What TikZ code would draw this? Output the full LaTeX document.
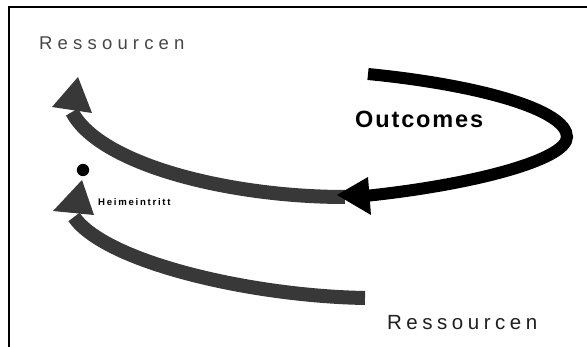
\documentclass[tikz,border=0pt]{standalone}
\usepackage{fontspec}
\setmainfont{Liberation Sans}
\newfontfamily\resfontA[LetterSpace=28]{Liberation Sans}
\newfontfamily\resfontB[LetterSpace=22]{Liberation Sans}
\newfontfamily\outfont[LetterSpace=8]{Liberation Sans}
\newfontfamily\heimfont[LetterSpace=18]{Liberation Sans}
\definecolor{dither}{gray}{0.22}
\begin{document}
\begin{tikzpicture}[x=1pt,y=-1pt,
  greyshaft/.style={draw=dither,line width=14pt},
  blackshaft/.style={draw=black,line width=12pt},
  greyhead/.style={fill=dither},
  blackhead/.style={fill=black},
  lbl/.style={inner sep=0pt,anchor=base west}]
\useasboundingbox (0,0) rectangle (587,347);
\fill[white] (0,0) rectangle (587,347);
% frame
\coordinate (fTL) at (9,7);
\coordinate (fTR) at (587,7);
\coordinate (fBL) at (9,347);
\draw[line width=1.4pt] (fTR) -- (fTL) -- (fBL);
% texts
\node[lbl,text=black!72] (res1) at (39,50) {\resfontA\fontsize{18.5}{20}\selectfont Ressourcen};
\node[lbl,text=black!88] (res2) at (387,330) {\resfontB\fontsize{20.5}{22}\selectfont Ressourcen};
\node[lbl] (out) at (355,128) {\outfont\bfseries\fontsize{23.5}{25}\selectfont Outcomes};
\node[lbl] (heim) at (98,206) {\heimfont\bfseries\fontsize{9.6}{11}\selectfont Heimeintritt};
% dot
\fill (83,170) circle (6.2pt);
% coordinates
\coordinate (bStart) at (368,74);
\coordinate (bRight) at (567,137);
\coordinate (bEnd) at (355,197);
\coordinate (uStart) at (345,197);
\coordinate (uEnd) at (72,112);
\coordinate (lStart) at (365,298);
\coordinate (lEnd) at (74,217);
% upper grey arrow
\draw[greyshaft] (uStart) .. controls (230,197) and (100,165) .. (uEnd);
\fill[greyhead] (78,77) -- (52,107) -- (92,113) -- cycle;
% lower grey arrow
\draw[greyshaft] (lStart) .. controls (250,296) and (105,262) .. (lEnd);
\fill[greyhead] (82,180) -- (53,211) -- (94,215) -- cycle;
% black arrow
\draw[blackshaft] (bStart) .. controls (480,85) and (567,110) .. (bRight)
   .. controls (567,160) and (470,186) .. (bEnd);
\fill[blackhead] (337,195) -- (368,177) -- (371,215) -- cycle;
\end{tikzpicture}
\end{document}
